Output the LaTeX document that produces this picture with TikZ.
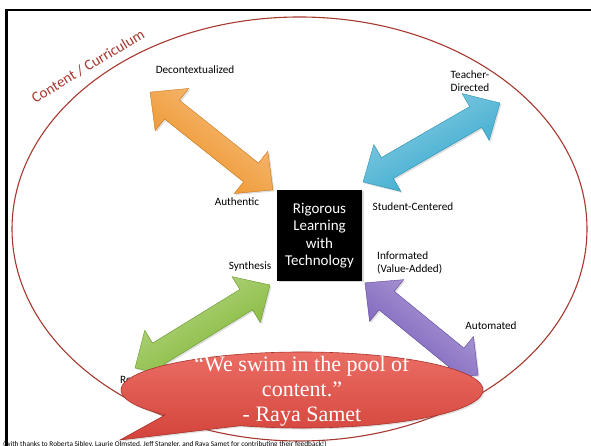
\documentclass[tikz,border=0pt]{standalone}
\usepackage{fontspec}
\setmainfont{Carlito}
\newfontfamily\qfont{Liberation Serif}
\usetikzlibrary{shadows,calc}
\definecolor{ellred}{HTML}{A6392F}
\definecolor{orD}{HTML}{EE8E1E}\definecolor{orB}{HTML}{C8761C}
\definecolor{blD}{HTML}{2FA6CC}\definecolor{blB}{HTML}{2790B0}
\definecolor{grD}{HTML}{7DB52C}\definecolor{grB}{HTML}{66962A}
\definecolor{puD}{HTML}{7458B8}\definecolor{puB}{HTML}{5E469A}
\definecolor{bubL}{HTML}{EC6F66}\definecolor{bubD}{HTML}{D3443B}\definecolor{bubB}{HTML}{A8322A}
\tikzset{
  lbl/.style={font=\fontsize{11.2}{13.5}\selectfont, inner sep=0pt, align=center},
}
% #1 center, #2 angle, #3 length, #4 base colour, #5 border colour
\newcommand{\blockarrow}[5]{%
  \begin{scope}[shift={#1}, rotate=#2]
    \pgfmathsetmacro\hl{#3/2}
    \draw[draw=#5, line width=0.4pt, drop shadow={opacity=0.25, shadow xshift=1.5pt, shadow yshift=-1.5pt},
          top color=#4!55!white, bottom color=#4, shading angle=#2]
      (-\hl,0) -- (-\hl+28,27) -- (-\hl+28,12) -- (\hl-28,12) -- (\hl-28,27) -- (\hl,0)
      -- (\hl-28,-27) -- (\hl-28,-12) -- (-\hl+28,-12) -- (-\hl+28,-27) -- cycle;
  \end{scope}}
\begin{document}
\begin{tikzpicture}[x=1pt,y=1pt]
\useasboundingbox (0,0) rectangle (591,446);
\fill[white] (0,0) rectangle (591,446);
% frame
\draw[line width=2.5pt] (6.5,-5) |- (600,436);
% content ellipse
\draw[ellred, line width=1.1pt] (299.5,217) ellipse [x radius=287.5, y radius=212];
\node[text=ellred, font=\fontsize{15}{17}\selectfont, rotate=31] (cc) at (88,380) {Content / Curriculum};
% arrows
\blockarrow{(211.5,305)}{-38.5}{157}{orD}{orB}
\blockarrow{(431.5,303.5)}{30}{158}{blD}{blB}
\blockarrow{(202.5,119.5)}{31.6}{158.5}{grD}{grB}
\blockarrow{(421.5,117)}{-39.2}{146}{puD}{puB}
% core
\node[fill=black, minimum width=85, minimum height=91, inner sep=0pt, text=white, align=center,
      font=\fontsize{15}{17.5}\selectfont,
      drop shadow={opacity=0.3, shadow xshift=1.5pt, shadow yshift=-1.5pt}] (core) at (319.5,210.5)
      {Rigorous\\Learning\\with\\Technology};
% labels
\node[lbl] (dec) at (195,376) {Decontextualized};
\node[lbl] (aut) at (237,244) {Authentic};
\node[lbl] (tea) at (470,365) {Teacher-\\Directed};
\node[lbl] (stu) at (413,239) {Student-Centered};
\node[lbl] (syn) at (250,179) {Synthesis};
\node[lbl, anchor=west, align=left] (inf) at (377,183) {Informated\\(Value-Added)};
\node[lbl] (aut2) at (491,120) {Automated};
\node[lbl, anchor=west] (rec) at (120,66) {Recall};
% speech bubble
\coordinate (bc) at (302,56);
\draw[draw=bubB, line width=0.6pt, top color=bubL, bottom color=bubD,
      drop shadow={opacity=0.25, shadow xshift=1.5pt, shadow yshift=-1.5pt}]
  ($(bc)+(250:181 and 38)$) arc[start angle=250, end angle=581, x radius=181, y radius=38]
  -- (120,6) -- cycle;
\node[text=white, font=\qfont\fontsize{22}{25}\selectfont, align=center, inner sep=0pt] (quote) at (302,55)
  {“We swim in the pool of\\content.”\\- Raya Samet};
% footnote
\node[anchor=base west, font=\fontsize{7.3}{8}\selectfont, inner sep=0pt] (thanks) at (3,-0.5)
  {(with thanks to Roberta Sibley, Laurie Olmsted, Jeff Stangler, and Raya Samet for contributing their feedback!)};
\end{tikzpicture}
\end{document}
